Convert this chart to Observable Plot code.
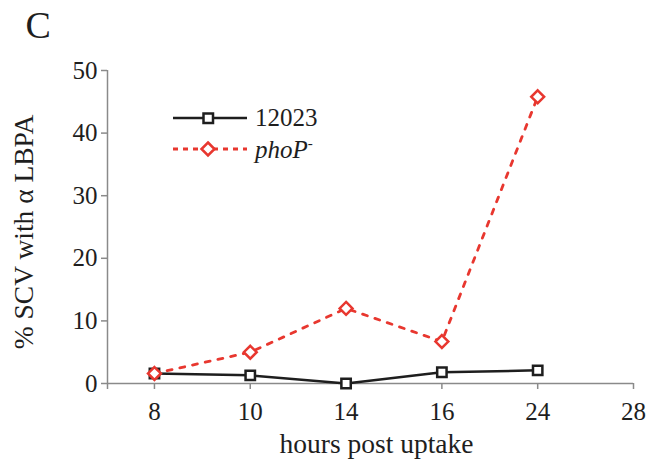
<!DOCTYPE html>
<html><head><meta charset="utf-8">
<script src="https://cdn.jsdelivr.net/npm/d3@7"></script>
<script src="https://cdn.jsdelivr.net/npm/@observablehq/plot@0.6"></script>
<style>
body{margin:0;background:#fff;}
#wrap{position:relative;width:656px;height:463px;font-family:"Liberation Serif","Times New Roman",serif;}
#legend{position:absolute;left:0;top:0;pointer-events:none;}
</style></head><body><div id="wrap"></div>
<script>
// ---- data ----
const xLabels = ["8", "10", "14", "16", "24", "28"];   // category tick labels (hours)
const hours = ["8", "10", "14", "16", "24"];             // measured time points
const wt12023 = [1.6, 1.3, 0.0, 1.8, 2.1];              // series "12023"
const phoP = [1.6, 5.0, 12.0, 6.7, 45.8];              // series "phoP-"
const yTicks = [0, 10, 20, 30, 40, 50];
const seriesNames = ["12023", "phoP"];
const yTitle = "% SCV with α LBPA";
const xTitle = "hours post uptake";
const panel = "C";

const RED = "#e8372f", BLACK = "#1e1e1e", AXIS = "#8a8a8a";
const FONT = "'Liberation Serif','Times New Roman',serif";
const xMin = -0.49, xMax = 5;

const rowsA = hours.map((h, k) => ({x: xLabels.indexOf(h), v: wt12023[k], s: seriesNames[0], k}));
const rowsB = hours.map((h, k) => ({x: xLabels.indexOf(h), v: phoP[k], s: seriesNames[1], k}));

const chart = Plot.plot({
  width: 656, height: 463,
  marginLeft: 107, marginRight: 23, marginTop: 70, marginBottom: 80,
  style: {fontFamily: FONT, background: "white", color: BLACK},
  x: {type: "linear", domain: [xMin, xMax]},
  y: {domain: [0, 50]},
  marks: [
    Plot.ruleX([xMin], {y1: 0, y2: 50, stroke: AXIS, strokeWidth: 1.5}),
    Plot.ruleY([0], {x1: xMin, x2: xMax, stroke: AXIS, strokeWidth: 1.5}),
    Plot.axisY({ticks: yTicks, tickSize: 6, tickPadding: 4, stroke: AXIS, strokeWidth: 1.5,
      fontSize: 25, fill: BLACK, fontFamily: FONT, label: null}),
    Plot.axisX({ticks: [xMin, 0, 1, 2, 3, 4, 5], tickFormat: i => xLabels[i] ?? "",
      tickSize: 6, tickPadding: 13, stroke: AXIS, strokeWidth: 1.5, fontSize: 25, fill: BLACK,
      fontFamily: FONT, label: null}),
    Plot.text([yTitle], {frameAnchor: "left", rotate: -90, dx: -83, dy: 5, lineAnchor: "middle",
      textAnchor: "middle", fontSize: 27.5, fill: BLACK, fontFamily: FONT}),
    Plot.text([xTitle], {frameAnchor: "bottom", dx: 6, dy: 61, lineAnchor: "middle",
      textAnchor: "middle", fontSize: 27.5, fill: BLACK, fontFamily: FONT}),
    Plot.line(rowsA, {x: "x", y: "v", stroke: BLACK, strokeWidth: 2.5}),
    Plot.dot(rowsA, {x: "x", y: "v", symbol: "square", r: 5.3, stroke: BLACK, strokeWidth: 2.5,
      fill: d => d.k === 0 ? BLACK : "white"}),
    Plot.line(rowsB, {x: "x", y: "v", stroke: RED, strokeWidth: 2.8, strokeDasharray: "5,8"}),
    Plot.dot(rowsB, {x: "x", y: "v", symbol: "diamond2", r: 5.8, stroke: RED, strokeWidth: 2.5, fill: "white"}),
    Plot.text([panel], {frameAnchor: "top-left", dx: -82, dy: -59, lineAnchor: "top", textAnchor: "start",
      fontSize: 38, fill: BLACK, fontFamily: FONT})
  ]
});

const wrap = document.getElementById("wrap");
wrap.appendChild(chart);

// legend overlay
const legendSvg = `
<svg id="legend" width="656" height="463" xmlns="http://www.w3.org/2000/svg" font-family="${FONT.replace(/'/g, "")}">
  <line x1="173" y1="118" x2="247" y2="118" stroke="${BLACK}" stroke-width="2.5"/>
  <rect x="203.5" y="113.5" width="9.5" height="9.5" fill="white" stroke="${BLACK}" stroke-width="2.5"/>
  <text x="255" y="126" font-size="25" fill="${BLACK}">${seriesNames[0]}</text>
  <line x1="173" y1="149" x2="247" y2="149" stroke="${RED}" stroke-width="2.8" stroke-dasharray="5,5"/>
  <path d="M208,142.5L214.5,149L208,155.5L201.5,149Z" fill="white" stroke="${RED}" stroke-width="2.5"/>
  <text x="255" y="158" font-size="25" fill="${BLACK}" font-style="italic">${seriesNames[1]}<tspan dy="-10" font-size="15" font-style="normal">-</tspan></text>
</svg>`;
wrap.insertAdjacentHTML("beforeend", legendSvg);
</script>
</body></html>
